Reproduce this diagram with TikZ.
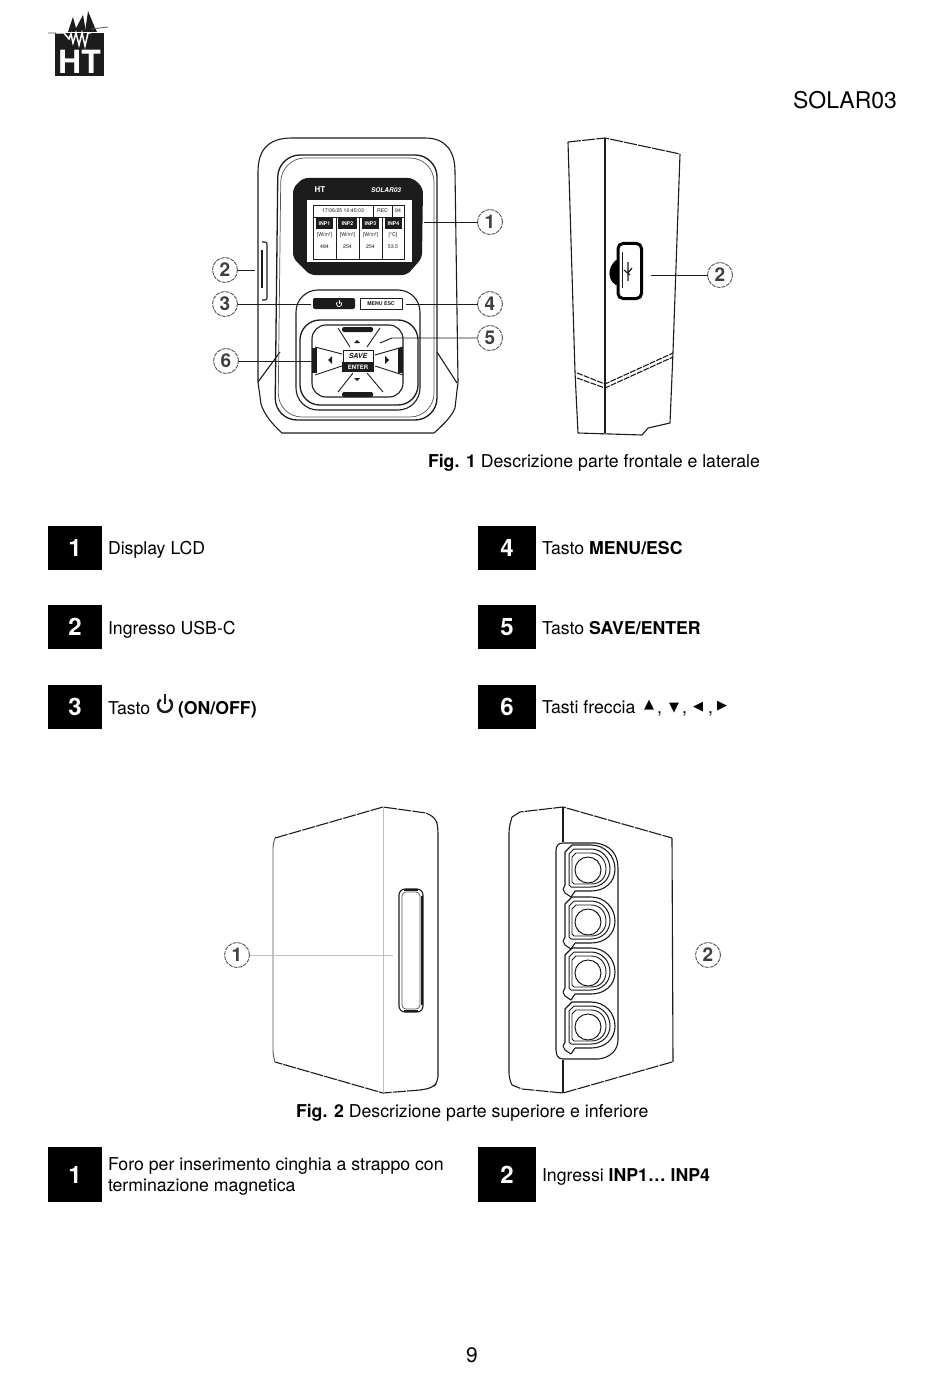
\documentclass[tikz,border=0pt]{standalone}
\usepackage{fontspec}
\setmainfont{TeX Gyre Heros}
\newfontfamily\symfont{DejaVu Sans}
\usetikzlibrary{calc}
\definecolor{ink}{HTML}{1C1C1C}
\definecolor{mid}{HTML}{555555}
\definecolor{faint}{HTML}{BDBDBD}
\newcommand{\fs}[1]{\fontsize{#1}{#1}\selectfont}
\tikzset{
  every node/.style={inner sep=0pt,outer sep=0pt},
  body/.style={draw=ink,line width=1.1pt,line join=round},
  hazy/.style={draw=ink,line width=1.1pt,dash pattern=on 13pt off 1.2pt,line join=round},
  thin line/.style={draw=mid,line width=0.7pt},
  solidblack/.style={fill=ink,draw=none},
  numbox/.style={fill=black,text=white,font=\fs{24}\bfseries,minimum height=44pt,align=center},
  label/.style={anchor=base west,font=\fs{17.7},text=black},
  callout/.style={circle,draw=mid,line width=0.9pt,dash pattern=on 4pt off 1pt,minimum size=25pt,font=\fs{19}\bfseries,text=ink!85},
  leader/.style={draw=ink,line width=0.9pt},
  leaderfaint/.style={draw=faint,line width=1pt},
  tiny/.style={font=\fs{5.2},text=ink},
  tinyw/.style={font=\fs{5.2}\bfseries,text=white},
}
\begin{document}
\begin{tikzpicture}[x=1pt,y=-1pt]
\useasboundingbox (0,0) rectangle (950,1388);
\fill[white] (0,0) rectangle (950,1388);

% --- logo
\fill[ink] (55,33) rectangle (104,76);
\fill[ink] (68,32) -- (73,17) -- (77,32) -- cycle;
\fill[ink] (74,32) -- (83,15) -- (86,32) -- cycle;
\fill[ink] (85,32) -- (88,11) -- (95,28) -- (97,32) -- cycle;
\draw[white,line width=1.5pt] (56,33) -- (64,33) -- (69,39) -- (71,34) -- (73,43) -- (76,33) -- (79,45) -- (82,33) -- (85,46) -- (88,33) -- (91,33);
\draw[mid,line width=0.8pt] (48,33) -- (56,33) (91,29) -- (108,27);
\node[font=\fs{32}\bfseries,text=white] (logotext) at (79.5,62) {HT};

% --- header
\node[anchor=base east,font=\fs{23}] (hdr) at (897,109) {SOLAR03};

% --- Fig.1 front: outer shell
\draw[body] (258,382) -- (258,172) .. controls (258,150) and (268,138) .. (292,138) -- (425,138) .. controls (445,138) and (455,150) .. (455,172) -- (458,382);
\draw[body] (258,382) -- (261,404) .. controls (264,414) and (272,424) .. (282,433) -- (434,433) .. controls (444,424) and (452,416) .. (455,408) -- (458,382);
\draw[body] (258,382) -- (280,352);
\draw[body] (437,352) -- (457,383);
% inner shell
\draw[body,line width=1.3pt,rounded corners=22pt] (278,155) -- (437,155) -- (437,420) -- (275,420) -- cycle;
\draw[thin line,rounded corners=24pt] (281,158) -- (434,158) -- (434,417) -- (278,417) -- cycle;
% USB bump
\draw[body,rounded corners=2pt] (262,242) -- (267,242) -- (267,300) -- (262,300);
\draw[ink,line width=2pt] (262,250) -- (262,288);
% display
\fill[ink,rounded corners=5pt] (303,178) -- (413,178) -- (423,188) -- (422,258) -- (407,275) -- (310,275) -- (293,258) -- (293,188) -- cycle;
\fill[white] (307,200) rectangle (412,262);
\node[tinyw,font=\fs{8}\bfseries] (lcdbrand) at (320,190) {HT};
\node[tinyw,font=\fs{6.5}\bfseries\itshape] (lcdmodel) at (386,190) {SOLAR03};
\draw[ink,line width=0.9pt] (313,205) rectangle (404,259);
\draw[ink,line width=0.9pt] (313,217) -- (404,217);
\draw[ink,line width=0.9pt] (336,217) -- (336,259) (359,217) -- (359,259) (382,217) -- (382,259) (373,205) -- (373,217) (392,205) -- (392,217);
\node[tiny] (lcdt1) at (343,211) {17/06/25 10:45:03};
\node[tiny] (lcdt2) at (382.5,211) {REC};
\node[tiny] (lcdt3) at (398,211) {94};
\foreach \a/\b/\t in {316/333/INP1,338/357/INP2,362/379/INP3,385/402/INP4}{
  \fill[ink] (\a,218) rectangle (\b,229);
  \node[tinyw] at ({(\a+\b)/2},223.5) {\t};
}
\foreach \x/\u/\v in {324.5/{[W/m²]}/484,347.5/{[W/m²]}/254,370.5/{[W/m²]}/254,393/{[°C]}/53.5}{
  \node[tiny] at (\x,235) {\u};
  \node[tiny] at (\x,247) {\v};
}
% keypad housing
\draw[body,rounded corners=22pt] (296,290) -- (420,290) -- (420,410) -- (296,410) -- cycle;
\draw[body,line width=1.3pt,rounded corners=20pt] (300,320) -- (418,320) -- (418,405) -- (300,405) -- cycle;
\draw[body,rounded corners=14pt] (312,325) -- (403,325) -- (403,397) -- (312,397) -- cycle;
% top buttons
\fill[ink,rounded corners=2pt] (313,298) -- (355,298) -- (355,309) -- (313,309) -- cycle;
\draw[white,line width=0.8pt] ($(339,304)+(-50:2.6)$) arc[start angle=-50,end angle=230,radius=2.6];
\draw[white,line width=0.8pt] (339,300) -- (339,303.5);
\draw[body,line width=0.9pt] (360,298) rectangle (402,309);
\node[tiny,font=\fs{5.2}\bfseries] (menukey) at (381,303.5) {MENU ESC};
% pad bars
\fill[ink,rounded corners=1.5pt] (342,327) rectangle (373,332);
\fill[ink,rounded corners=1.5pt] (342,392) rectangle (373,397);
\fill[ink] (312,348) rectangle (317,373);
\fill[ink] (398,348) rectangle (403,373);
% pad diagonals
\draw[thin line,draw=ink,line width=0.9pt]
  (315,347) -- (342,354) (338,328) -- (350,347) (380,328) -- (367,347) (403,347) -- (375,355)
  (315,375) -- (342,366) (338,392) -- (353,373) (383,392) -- (367,373) (403,375) -- (375,366);
% centre key
\node[draw=ink,line width=0.9pt,minimum width=30pt,minimum height=12pt,font=\fs{7}\bfseries\itshape,text=ink] (savekey) at (358,356) {SAVE};
\node[fill=ink,minimum width=32pt,minimum height=10pt,font=\fs{6}\bfseries,text=white] (enterkey) at (358,367) {ENTER};
% pad arrows
\fill[ink] (354,343) -- (357,340) -- (360,343) -- cycle;
\fill[ink] (354,378) -- (357,381) -- (360,378) -- cycle;
\fill[ink] (332,356) -- (328,360) -- (332,364) -- cycle;
\fill[ink] (385,356) -- (389,360) -- (385,364) -- cycle;

% callouts Fig.1
\node[callout] (a1) at (490,222) {1};
\node[callout] (a2) at (225,270) {2};
\node[callout] (a3) at (225,304) {3};
\node[callout] (a4) at (490,304) {4};
\node[callout] (a5) at (490,338) {5};
\node[callout] (a6) at (226,361) {6};
\coordinate (e1) at (424,222);
\coordinate (e2) at (255,270);
\coordinate (e3) at (311,304);
\coordinate (e4) at (406,304);
\coordinate (e5) at (392,338);
\coordinate (e5b) at (380,343);
\coordinate (e6) at (313,361);
\draw[leader] (e1) -- (a1);
\draw[leader] (e2) -- (a2);
\draw[leader] (e3) -- (a3);
\draw[leader] (e4) -- (a4);
\draw[leader] (e5b) -- (e5) -- (a5);
\draw[leader] (e6) -- (a6);

% --- Fig.1 side
\draw[hazy] (568,142) -- (605,138) -- (680,154);
\draw[body] (568,142) -- (575,372) -- (578,433) -- (642,435) -- (648,428) -- (670,423) -- (673,352) -- (680,154);
\draw[body] (605,138) -- (605,433);
\draw[hazy,dash pattern=on 6pt off 1.2pt] (577,373) -- (605,384) -- (673,353);
\draw[hazy,dash pattern=on 6pt off 1.2pt] (577,378) -- (605,388) -- (673,357);
\fill[black,rounded corners=2pt] (617,259) -- (612,264) -- (609,272) -- (611,281) -- (617,286) -- cycle;
\draw[draw=black,line width=3pt,rounded corners=5pt] (618,243.5) rectangle (641.5,298.5);
\draw[ink,line width=0.9pt] (622,252) -- (622,288);
\draw[ink,line width=1.2pt] (628,262) -- (628,281) (624,270) -- (630,275) (632,268) -- (628,273);
\node[callout] (b2) at (720,275) {2};
\coordinate (f2) at (651,275);
\draw[leader] (f2) -- (b2);

% caption 1
\node[label] (cap1) at (428,467) {\textbf{Fig. 1} Descrizione parte frontale e laterale};

% --- legend
\node[numbox,minimum width=54pt] (n1) at (75,548) {1};
\node[numbox,minimum width=54pt] (n2) at (75,627) {2};
\node[numbox,minimum width=54pt] (n3) at (75,707) {3};
\node[numbox,minimum width=58pt] (n4) at (507,548) {4};
\node[numbox,minimum width=58pt] (n5) at (507,627) {5};
\node[numbox,minimum width=58pt] (n6) at (507,707) {6};
\node[label] (t1) at (108,554) {Display LCD};
\node[label] (t2) at (108,634) {Ingresso USB-C};
\node[label] (t3) at (108,714) {Tasto};
\draw[ink,line width=2.4pt] ($(165,705)+(-52:7)$) arc[start angle=-52,end angle=232,radius=7];
\draw[ink,line width=2.4pt] (165,694) -- (165,704);
\node[label,font=\fs{17.7}\bfseries] (t3b) at (178,714) {(ON/OFF)};
\node[label] (t4) at (542,554) {Tasto \textbf{MENU/ESC}};
\node[label] (t5) at (542,634) {Tasto \textbf{SAVE/ENTER}};
\node[label] (t6) at (542,713) {Tasti freccia};
\node[font=\symfont\fs{13}] (ar1) at (649,705) {▲};
\node[label] (cm1) at (657,713) {,};
\node[font=\symfont\fs{13}] (ar2) at (674,708) {▼};
\node[label] (cm2) at (682,713) {,};
\node[font=\symfont\fs{13}] (ar3) at (698,707) {◀};
\node[label] (cm3) at (708,713) {,};
\node[font=\symfont\fs{13}] (ar4) at (722,706) {▶};

% --- Fig.2 left
\draw[hazy] (275,838) -- (383,807) -- (426,813);
\draw[body,rounded corners=6pt] (426,813) -- (436,818) -- (438,828) -- (438,1082) -- (432,1088) -- (420,1090);
\draw[hazy] (420,1090) -- (383,1093) -- (275,1062);
\draw[draw=mid,line width=0.9pt,rounded corners=3pt] (275,838) -- (273,845) -- (273,1054) -- (275,1062);
\draw[leaderfaint] (383,807) -- (383,1093);
\draw[body,rounded corners=6pt] (399,889) rectangle (423,1012);
\draw[thin line,rounded corners=4pt] (402,892) rectangle (420,1009);
\draw[ink,line width=2pt] (421.5,896) -- (421.5,1005);
\draw[ink,line width=1.6pt] (404,890) -- (418,890) (404,1011) -- (418,1011);
\node[callout] (c1) at (237,955) {1};
\coordinate (g1) at (393,955);
\draw[leaderfaint] (g1) -- (c1);

% --- Fig.2 right
\draw[hazy] (512,817) -- (520,812) -- (563,807) -- (672,838);
\draw[hazy] (672,1062) -- (563,1093) -- (522,1089) -- (512,1085);
\draw[body] (672,838) -- (673,1062);
\draw[body,rounded corners=5pt] (512,817) -- (509,828) -- (509,1078) -- (512,1085);
\draw[body] (563,807) -- (563,842) (563,1060) -- (563,1093);
\draw[body] (563,843) -- (596,843) .. controls (610,845) and (618,854) .. (618,868) -- (618,1040) .. controls (618,1050) and (610,1058) .. (598,1059) -- (563,1059) .. controls (558,1059) and (556,1055) .. (556,1050) -- (556,851) .. controls (556,846) and (558,843) .. (563,843);
\foreach \cy in {870,922,973,1027}{
  \begin{scope}[shift={(588,\cy)}]
    \draw[draw=ink,line width=1.1pt,line join=round]
      (-23,15) -- (-23,-18) -- (-16,-25) -- (3,-25) .. controls (17,-25) and (27,-14) .. (27,-1) .. controls (27,12) and (17,21) .. (3,21) -- (-13,21) -- (-17,27) -- (-23,23) -- (-25,19) -- cycle;
    \draw[draw=ink,line width=1pt,line join=round]
      (-19,15) -- (-19,-16) -- (-14,-21) -- (3,-21) .. controls (14,-21) and (22,-12) .. (22,-1) .. controls (22,9) and (14,17) .. (3,17) -- (-17,17) -- cycle;
    \draw[draw=ink,line width=0.9pt,line join=round]
      (-16,12) -- (-16,-13) -- (-12,-17) -- (3,-17) .. controls (12,-17) and (18,-10) .. (18,-1) .. controls (18,8) and (12,14) .. (3,14) -- (-14,14) -- cycle;
    \draw[draw=ink,line width=1pt] (0,0) circle (13);
  \end{scope}
}
\node[callout] (c2) at (708,955) {2};

% caption 2
\node[label] (cap2) at (296,1117) {\textbf{Fig. 2} Descrizione parte superiore e inferiore};

% --- lower legend
\node[numbox,minimum width=54pt,minimum height=55pt] (m1) at (75,1174.5) {1};
\node[numbox,minimum width=58pt,minimum height=55pt] (m2) at (507,1174.5) {2};
\node[anchor=west,font=\fontsize{17.7}{21}\selectfont,align=left] (u1) at (108,1176) {Foro per inserimento cinghia a strappo con\\terminazione magnetica};
\node[label] (u2) at (542,1181) {Ingressi \textbf{INP1… INP4}};

% page number
\node[anchor=base,font=\fs{21}] (pg) at (472,1362) {9};
\end{tikzpicture}
\end{document}
